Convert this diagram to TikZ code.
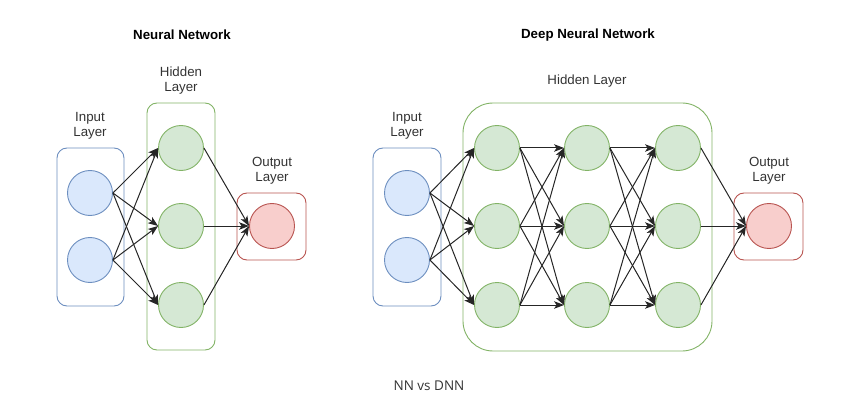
\documentclass[tikz,border=0pt]{standalone}
\usepackage{fontspec}
\setmainfont{Liberation Sans}
\newfontfamily\captionfont{Open Sans}
\usetikzlibrary{arrows.meta}
\definecolor{inFill}{HTML}{DAE8FC}
\definecolor{inLine}{HTML}{6C8EBF}
\definecolor{hidFill}{HTML}{D5E8D4}
\definecolor{hidLine}{HTML}{82B366}
\definecolor{outFill}{HTML}{F8CECC}
\definecolor{outLine}{HTML}{B85450}
\definecolor{textGray}{HTML}{333333}
\tikzset{
	unit/.style={circle, draw, line width=0.9pt, minimum size=45pt, inner sep=0pt},
	inunit/.style={unit, draw=inLine, fill=inFill},
	hidunit/.style={unit, draw=hidLine, fill=hidFill},
	outunit/.style={unit, draw=outLine, fill=outFill},
	layerbox/.style={draw, line width=0.9pt, rounded corners=10pt, inner sep=0pt},
	inbox/.style={layerbox, draw=inLine},
	hidbox/.style={layerbox, draw=hidLine},
	outbox/.style={layerbox, draw=outLine},
	title/.style={font=\fontsize{13.3}{15}\selectfont\bfseries, text=black},
	layername/.style={font=\fontsize{13.3}{15}\selectfont, text=textGray, align=center},
	link/.style={line width=1pt, draw=black!85, -{Stealth[length=10pt,width=7.5pt,inset=2.5pt]}}
}
\begin{document}
\begin{tikzpicture}[x=1pt, y=-1pt]
			\useasboundingbox (0,0) rectangle (852,417);
			
			%%%%% NEURAL NETWORK %%%%%
			
			\node[title] (nnTitle) at (182,35) {Neural Network};
			
			\node[inbox, minimum width=67pt, minimum height=158pt] (nnInBox) at (90.5,227) {};
			\node[hidbox, minimum width=68pt, minimum height=247pt] (nnHidBox) at (181,226.5) {};
			\node[outbox, minimum width=69pt, minimum height=67pt] (nnOutBox) at (271.5,226.5) {};
			
			\node[layername] (nnInName) at (90,125.5) {Input\\Layer};
			\node[layername] (nnHidName) at (181,81) {Hidden\\Layer};
			\node[layername] (nnOutName) at (272,170.5) {Output\\Layer};
			
			\foreach \y [count=\i] in {193,260}
				\node[inunit] (nnIn\i) at (90,\y) {};
			\foreach \y [count=\i] in {148,226,305}
				\node[hidunit] (nnHid\i) at (181,\y) {};
			\node[outunit] (nnOut) at (272,226) {};
			
			\foreach \i in {1,2}
				\foreach \j in {1,2,3}
					\draw[link] (nnIn\i.east) -- (nnHid\j.west);
			\foreach \j in {1,2,3}
				\draw[link] (nnHid\j.east) -- (nnOut.west);
			
			%%%%% DEEP NEURAL NETWORK %%%%%
			
			\node[title] (dnnTitle) at (588,35) {Deep Neural Network};
			
			\node[inbox, minimum width=68pt, minimum height=158pt] (dnnInBox) at (407,227) {};
			\node[hidbox, rounded corners=30pt, minimum width=249pt, minimum height=248pt] (dnnHidBox) at (587.5,227) {};
			\node[outbox, minimum width=69pt, minimum height=67pt] (dnnOutBox) at (768.5,226.5) {};
			
			\node[layername] (dnnInName) at (407,125.5) {Input\\Layer};
			\node[layername] (dnnHidName) at (587,81) {Hidden Layer};
			\node[layername] (dnnOutName) at (769,170.5) {Output\\Layer};
			
			\foreach \y [count=\i] in {193,260}
				\node[inunit] (dnnIn\i) at (407,\y) {};
			\foreach \x [count=\c] in {497,587,678}
				\foreach \y [count=\i] in {148,226,305}
					\node[hidunit] (dnnHid\c\i) at (\x,\y) {};
			\node[outunit] (dnnOut) at (769,226) {};
			
			\foreach \i in {1,2}
				\foreach \j in {1,2,3}
					\draw[link] (dnnIn\i.east) -- (dnnHid1\j.west);
			\foreach \c/\d in {1/2,2/3}
				\foreach \i in {1,2,3}
					\foreach \j in {1,2,3}
						\draw[link] (dnnHid\c\i.east) -- (dnnHid\d\j.west);
			\foreach \j in {1,2,3}
				\draw[link] (dnnHid3\j.east) -- (dnnOut.west);
			
			%%%%% CAPTION %%%%%
			
			\node[font=\captionfont\fontsize{13.5}{15}\selectfont, text=textGray] (caption) at (429,386) {NN vs DNN};
			
\end{tikzpicture}
\end{document}
